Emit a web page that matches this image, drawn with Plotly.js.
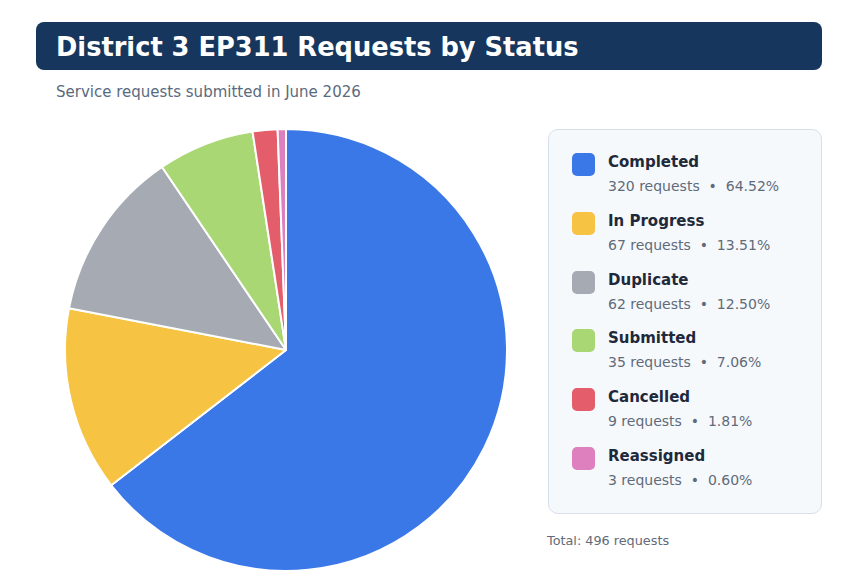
<!DOCTYPE html>
<html>
<head>
<meta charset="utf-8">
<script src="https://cdn.plot.ly/plotly-3.0.1.min.js"></script>
<style>
  body { margin:0; background:#fff; font-family:"DejaVu Sans", sans-serif; }
  #wrap { position:relative; width:858px; height:586px; overflow:hidden; }
  #grafico { position:absolute; left:0; top:0; width:858px; height:586px; }
  #banner { position:absolute; left:36px; top:22px; width:786px; height:48px; background:#17365d; border-radius:8px; }
  #banner h1 { margin:0; position:absolute; left:20px; top:10px; font-size:25.7px; line-height:30px; color:#fff; font-weight:bold; }
  #subt { position:absolute; left:56px; top:83px; font-size:15px; color:#5a6a7e; }
  #leyenda { position:absolute; left:548px; top:129px; width:272px; height:383px; background:#f6f9fc; border:1px solid #d7dfe8; border-radius:10px; }
  .fila { position:absolute; left:23px; }
  .sw { position:absolute; left:0; top:0; width:23px; height:23px; border-radius:5px; }
  .nom { position:absolute; left:36px; top:0px; font-size:15px; font-weight:bold; color:#1e293b; white-space:nowrap; }
  .det { position:absolute; left:36px; top:25px; font-size:14px; color:#5f6b7a; white-space:nowrap; }
  #total { position:absolute; left:547px; top:533px; font-size:12.8px; color:#5f6b7a; }
</style>
</head>
<body>
<div id="wrap">
  <div id="grafico"></div>
  <div id="banner"><h1>District 3 EP311 Requests by Status</h1></div>
  <div id="subt">Service requests submitted in June 2026</div>
  <div id="leyenda"></div>
  <div id="total"></div>
</div>
<script>
// datos
var estados = ["Completed", "In Progress", "Duplicate", "Submitted", "Cancelled", "Reassigned"];
var cuentas = [320, 67, 62, 35, 9, 3];
var colores = ["#3b78e7", "#f6c343", "#a6abb3", "#a9d773", "#e45d6b", "#de7fbe"];

var total = cuentas.reduce(function(a, b){ return a + b; }, 0);

var trace1 = {
  type: 'pie',
  labels: estados,
  values: cuentas,
  sort: false,
  direction: 'clockwise',
  rotation: 0,
  textinfo: 'none',
  hoverinfo: 'label+value+percent',
  marker: { colors: colores, line: { color: '#ffffff', width: 2 } },
  domain: { x: [65/858, 507/858], y: [1 - 571/586, 1 - 129/586] }
};

var layout = {
  width: 858,
  height: 586,
  margin: { l: 0, r: 0, t: 0, b: 0 },
  showlegend: false,
  paper_bgcolor: '#ffffff'
};

Plotly.newPlot("grafico", [trace1], layout, { displayModeBar: false, staticPlot: true });

// leyenda
var leyenda = document.querySelector("#leyenda");
for (let i = 0; i < estados.length; i++) {
  var pct = (cuentas[i] / total * 100).toFixed(2);
  var fila = document.createElement("div");
  fila.className = "fila";
  fila.style.top = (23 + i * 58.8) + "px";
  fila.innerHTML = '<div class="sw" style="background:' + colores[i] + '"></div>' +
    '<div class="nom">' + estados[i] + '</div>' +
    '<div class="det">' + cuentas[i] + ' requests&nbsp;&nbsp;•&nbsp;&nbsp;' + pct + '%</div>';
  leyenda.appendChild(fila);
}
document.querySelector("#total").innerHTML = "Total: " + total + " requests";
</script>
</body>
</html>
